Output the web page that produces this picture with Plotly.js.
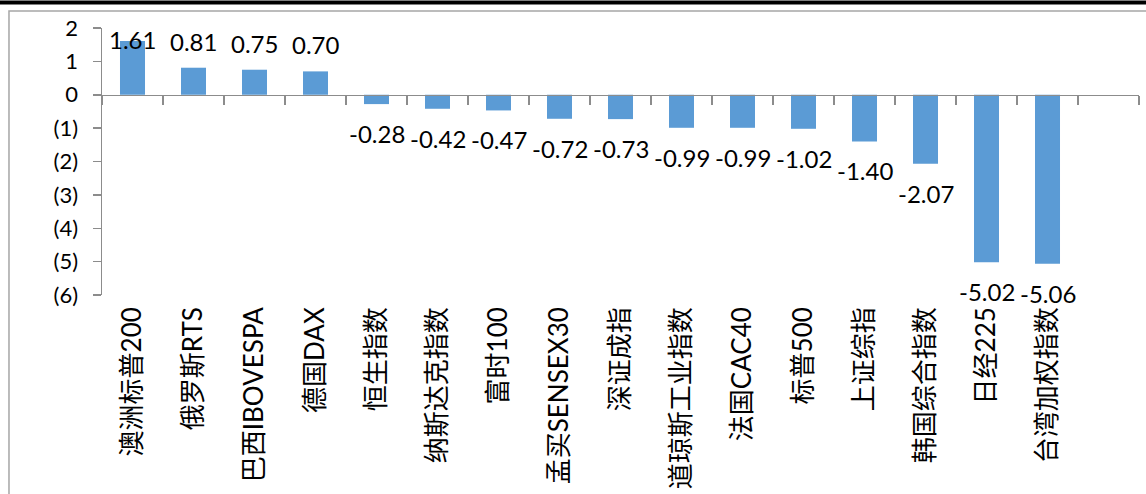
<!DOCTYPE html>
<html>
<head>
<meta charset="utf-8">
<script src="https://cdn.plot.ly/plotly-3.0.1.min.js"></script>
<style>
html,body{margin:0;padding:0;background:#fff;}
#chart{width:1146px;height:494px;}
</style>
</head>
<body>
<div id="chart"></div>
<script>
// Categories (last slot is an empty category, as in the reference)
const categories = ["澳洲标普200","俄罗斯RTS","巴西IBOVESPA","德国DAX","恒生指数","纳斯达克指数","富时100","孟买SENSEX30","深证成指","道琼斯工业指数","法国CAC40","标普500","上证综指","韩国综合指数","日经225","台湾加权指数"," "];
const values = [1.61, 0.81, 0.75, 0.70, -0.28, -0.42, -0.47, -0.72, -0.73, -0.99, -0.99, -1.02, -1.40, -2.07, -5.02, -5.06, null];
const valueLabels = ["1.61","0.81","0.75","0.70","-0.28","-0.42","-0.47","-0.72","-0.73","-0.99","-0.99","-1.02","-1.40","-2.07","-5.02","-5.06",""];
const yTickVals = [2, 1, 0, -1, -2, -3, -4, -5, -6];
const yTickText = ["2","1","0","(1)","(2)","(3)","(4)","(5)","(6)"];

const Y_MIN = -6, Y_MAX = 2;
const AXIS_GRAY = "#8c8c8c";
const LATIN = "Lato, 'Noto Sans CJK SC', sans-serif";

const bars = {
  type: "bar", x: categories, y: values,
  xaxis: "x", yaxis: "y",
  marker: {color: "#5b9bd5"},
  hoverinfo: "x+y", showlegend: false
};
// invisible copy so the bottom label axis carries the categories
const labelCarrier = {
  type: "bar", x: categories, y: values,
  xaxis: "x2", yaxis: "y",
  marker: {color: "rgba(0,0,0,0)"},
  hoverinfo: "skip", showlegend: false
};

const annotations = [];
categories.forEach((c, i) => {
  const v = values[i];
  if (v === null) return;
  if (v >= 0) {
    if (v + 1.1 > Y_MAX) {
      annotations.push({x: c, y: Y_MAX, xref: "x", yref: "y", text: valueLabels[i], showarrow: false, yanchor: "top", yshift: 5, font: {family: LATIN, size: 24, color: "#000"}});
    } else {
      annotations.push({x: c, y: v, xref: "x", yref: "y", text: valueLabels[i], showarrow: false, yanchor: "bottom", yshift: 10, font: {family: LATIN, size: 24, color: "#000"}});
    }
  } else {
    annotations.push({x: c, y: v, xref: "x", yref: "y", text: valueLabels[i], showarrow: false, yanchor: "top", yshift: -13, font: {family: LATIN, size: 24, color: "#000"}});
  }
});

const layout = {
  width: 1146, height: 494,
  margin: {l: 102, r: 7, t: 28, b: 199},
  paper_bgcolor: "#fff", plot_bgcolor: "#fff",
  bargap: 0.59,
  font: {family: LATIN, color: "#000"},
  xaxis: {
    type: "category", range: [-0.5, 16.5],
    anchor: "free", position: (0 - Y_MIN) / (Y_MAX - Y_MIN),
    showline: true, linecolor: AXIS_GRAY, linewidth: 1.5,
    ticks: "outside", ticklen: 9, tickcolor: AXIS_GRAY, tickwidth: 1.5,
    tickson: "boundaries",
    showticklabels: false, showgrid: false, zeroline: false, fixedrange: true
  },
  xaxis2: {
    type: "category", range: [-0.5, 16.5],
    overlaying: "x", anchor: "y", side: "bottom",
    showline: false, ticks: "", showgrid: false, zeroline: false,
    tickangle: -90, ticklabelstandoff: 6,
    tickfont: {family: LATIN, size: 26, color: "#000"}, fixedrange: true
  },
  yaxis: {
    range: [Y_MIN, Y_MAX],
    tickmode: "array", tickvals: yTickVals, ticktext: yTickText,
    showline: true, linecolor: AXIS_GRAY, linewidth: 1.5,
    ticks: "outside", ticklen: 8, tickcolor: AXIS_GRAY, tickwidth: 1.5,
    ticklabelstandoff: 10,
    tickfont: {family: LATIN, size: 22, color: "#000"},
    showgrid: false, zeroline: false, fixedrange: true
  },
  annotations: annotations,
  shapes: [
    {type: "rect", xref: "paper", yref: "paper", x0: -0.0897, x1: 1.2, y0: -1, y1: 1.0637, line: {color: "#a6a6a6", width: 1.5}, layer: "below"},
    {type: "line", xref: "paper", yref: "paper", x0: -0.2, x1: 1.2, y0: 1.0955, y1: 1.0955, line: {color: "#000", width: 4}}
  ]
};

Plotly.newPlot("chart", [bars, labelCarrier], layout, {displayModeBar: false, staticPlot: true});
</script>
</body>
</html>
